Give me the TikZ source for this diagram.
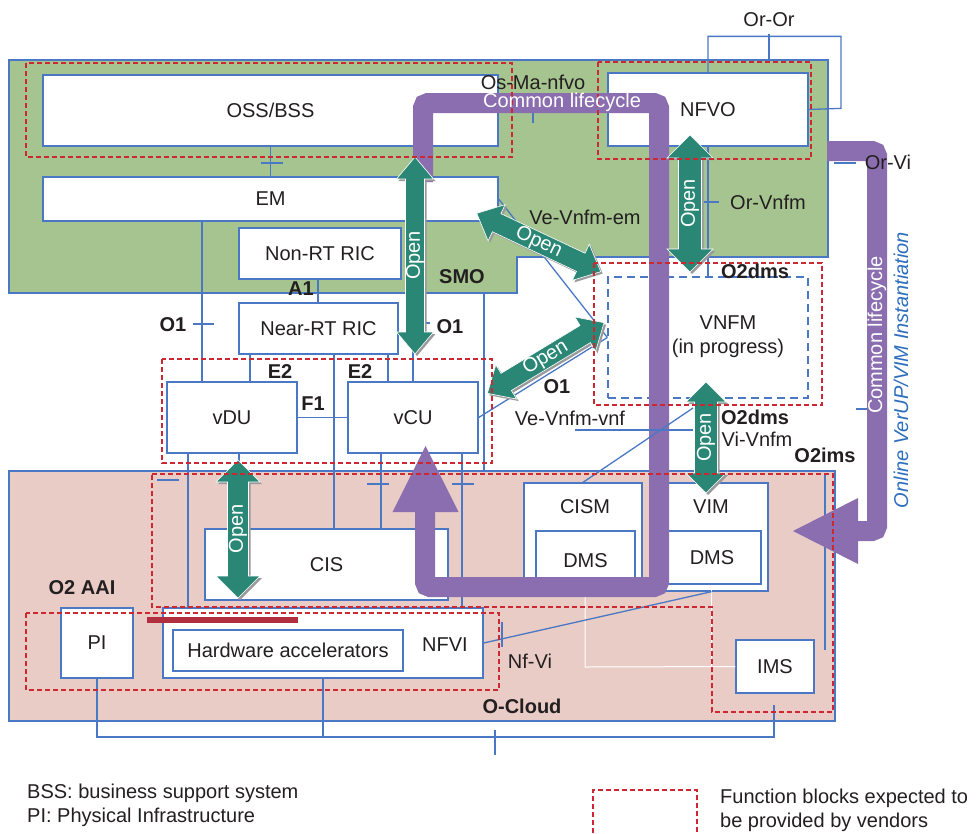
\documentclass[tikz,border=0pt]{standalone}
\usepackage{fontspec}
\setmainfont{Liberation Sans}
\definecolor{smogreen}{HTML}{A6C490}
\definecolor{cloudpink}{HTML}{E9CCC5}
\definecolor{purpc}{HTML}{8B6EAF}
\definecolor{openteal}{HTML}{2A8776}
\definecolor{lblue}{HTML}{4A78C4}
\definecolor{rdash}{HTML}{CC2832}
\definecolor{darkredbar}{HTML}{B02E3E}
\definecolor{txt}{HTML}{231F20}
\definecolor{itblue}{HTML}{2E6EBE}
\definecolor{shadowgray}{HTML}{9A9A9A}
\newcommand\dfs{\fontsize{20}{24}\selectfont}
\newcommand\openarrow[8]{%
  \fill[shadowgray, shift={(#2+2,#3+2)}, rotate=#4] (-#5,0) -- (-#5+#8,-#7) -- (-#5+#8,-#6) -- (#5-#8,-#6) -- (#5-#8,-#7) -- (#5,0) -- (#5-#8,#7) -- (#5-#8,#6) -- (-#5+#8,#6) -- (-#5+#8,#7) -- cycle;
  \filldraw[fill=openteal, draw=white, line width=0.6pt, shift={(#2,#3)}, rotate=#4] (-#5,0) -- (-#5+#8,-#7) -- (-#5+#8,-#6) -- (#5-#8,-#6) -- (#5-#8,-#7) -- (#5,0) -- (#5-#8,#7) -- (#5-#8,#6) -- (-#5+#8,#6) -- (-#5+#8,#7) -- cycle;
  \node[font=\dfs, text=white, inner sep=0pt, rotate=#4] (#1) at (#2,#3) {Open};
}
\begin{document}
\begin{tikzpicture}[x=1pt,y=-1pt,
  bl/.style={draw=lblue, line width=1.3pt},
  region/.style={draw=lblue, line width=1.3pt},
  blk/.style={draw=lblue, line width=1.3pt, fill=white, inner sep=0pt, font=\dfs, text=txt},
  vnfmbox/.style={draw=lblue, line width=1.3pt, dash pattern=on 8pt off 5pt, fill=white},
  reddash/.style={draw=rdash, line width=1.2pt, dash pattern=on 5pt off 3pt},
  lbl/.style={font=\dfs, text=txt, inner sep=0pt},
  blbl/.style={font=\dfs\bfseries, text=txt, inner sep=0pt},
  purpband/.style={draw=purpc, line width=20pt, rounded corners=5pt},
  whiteline/.style={draw=white, line width=1pt},
]
\useasboundingbox (0,0) rectangle (979,833);

% regions
\draw[region, fill=smogreen] (9,60) -- (828,60) -- (828,257) -- (517,257) -- (517,293) -- (9,293) -- cycle;
\draw[region, fill=cloudpink] (9,471) rectangle (835,721);

% helper x positions
\coordinate (x188) at (188,0);
\coordinate (x202) at (202,0);
\coordinate (x239) at (239,0);
\coordinate (x250) at (250,0);
\coordinate (x318) at (318,0);
\coordinate (x334) at (334,0);
\coordinate (x381) at (381,0);
\coordinate (x388) at (388,0);
\coordinate (x413) at (413,0);
\coordinate (x462) at (462,0);
\coordinate (x585) at (585,0);
\coordinate (x711) at (711,0);

% boxes
\node[blk, minimum width=455pt, minimum height=71pt] (oss) at (270.5,110.5) {OSS/BSS};
\node[blk, minimum width=455pt, minimum height=44pt] (em) at (270.5,199) {EM};
\node[blk, minimum width=162pt, minimum height=51pt] (nonrt) at (320,253.5) {Non-RT RIC};
\node[blk, minimum width=200pt, minimum height=73pt] (nfvo) at (708,109.5) {NFVO};
\node[blk, minimum width=159pt, minimum height=51pt] (nearrt) at (318.5,328.5) {Near-RT RIC};
\node[blk, minimum width=130pt, minimum height=71pt] (vdu) at (232,417.5) {vDU};
\node[blk, minimum width=130pt, minimum height=71pt] (vcu) at (413,417.5) {vCU};
\node[blk, minimum width=243pt, minimum height=71pt] (cis) at (326.5,564.5) {CIS};
\node[blk, minimum width=118pt, minimum height=109pt] (cism) at (583,537.5) {};
\node[blk, minimum width=99pt, minimum height=59pt] (cismdms) at (585.5,560.5) {DMS};
\node[blk, minimum width=113pt, minimum height=108pt] (vim) at (711.5,537) {};
\node[blk, minimum width=98pt, minimum height=53pt] (vimdms) at (712,557.5) {DMS};
\node[blk, minimum width=78pt, minimum height=53pt] (ims) at (775,666.5) {IMS};
\node[blk, minimum width=72pt, minimum height=70pt] (pi) at (97,643) {PI};
\node[blk, minimum width=320pt, minimum height=70pt] (nfvi) at (323,643) {};
\node[blk, minimum width=230pt, minimum height=41pt] (hwa) at (288,650.5) {Hardware accelerators};
\node[vnfmbox, minimum width=200pt, minimum height=121pt] (vnfm) at (708,337.5) {};

% connectors
\draw[bl] (oss.south) -- (em.north);
\draw[bl] (261,163) -- (283,163);
\draw[bl] (x202 |- em.south) -- (x202 |- vdu.north);
\draw[bl] (193,324) -- (214,324);
\draw[bl] (x318 |- nonrt.south) -- (x318 |- nearrt.north);
\draw[bl] (x250 |- nearrt.south) -- (x250 |- vdu.north);
\draw[bl] (x388 |- nearrt.south) -- (x388 |- vcu.north);
\draw[bl] (x413 |- em.south) -- (x413 |- vcu.north);
\draw[bl] (406,323) -- (430,323);
\draw[bl] (vdu.east) -- (vcu.west);
\draw[bl] (x334 |- nearrt.south) -- (x334 |- cis.north);
\draw[bl] (484,293) -- (484,471);
\draw[bl] (x188 |- vdu.south) -- (x188 |- nfvi.north);
\draw[bl] (x239 |- vdu.south) -- (x239 |- cis.north);
\draw[bl] (x381 |- vcu.south) -- (x381 |- cis.north);
\draw[bl] (367,484) -- (389,484);
\draw[bl] (x462 |- vcu.south) -- (x462 |- nfvi.north);
\draw[bl] (452,484) -- (474,484);
\draw[bl] (157,480) -- (179,480);
\draw[bl] (nfvo.south) -- (vnfm.north);
\draw[bl] (704,202) -- (719,202);
\draw[bl] (nfvo.north) -- ++(0,-36) -- ++(133,0) -- ++(0,72) -- (nfvo.east);
\draw[bl] (769,34) -- (769,60);
\draw[bl] (533,113) -- (533,123);
\draw[bl] (834,163) -- (856,163);
\draw[bl] (856,409) -- (883,409);
\draw[bl] (em.east) -- (vnfm.west);
\draw[bl] (vcu.east) -- (vnfm.west);
\draw[bl] (825,473) -- (825,650);
\draw[bl] (pi.south) -- (97,737) -- (774,737) -- (774,705);
\draw[bl] (nfvi.south) -- (323,737);
\draw[bl] (495,730) -- (495,755);
\draw[whiteline] (x585 |- cism.south) -- (585,667) -- (ims.west);
\draw[whiteline] (x711 |- vimdms.south) -- (711,667);

% purple lifecycle arrows
\draw[purpband] (423,182) -- (423,103) -- (659,103) -- (659,587) -- (425,587) -- (425,511);
\fill[purpc] (392.5,512) -- (458.5,512) -- (425.5,446) -- cycle;
\draw[purpband] (827,151) -- (877,151) -- (877,531) -- (857,531);
\fill[purpc] (858,498) -- (858,564) -- (793,531) -- cycle;

% connectors over purple
\draw[bl] (575,430) -- (693,430);
\draw[bl] (cism.north) -- (693,408);
\draw[bl] (vim.south) -- (nfvi.east);
\draw[bl] (502,622) -- (502,647);

% open arrows
\openarrow{op1}{415}{255.5}{90}{98.5}{9.5}{18.5}{22}
\openarrow{op2}{538.7}{242.5}{-25.2}{68.5}{10}{20}{22}
\openarrow{op3}{690}{203.5}{90}{68.5}{11.5}{23}{23}
\openarrow{op4}{545.7}{358}{31.2}{68.2}{10}{20}{22}
\openarrow{op5}{706}{437.5}{90}{55.5}{11.5}{20}{20}
\openarrow{op6}{238}{529}{90}{69}{10.5}{22}{22}

% red dashed vendor blocks
\draw[reddash] (26,63) rectangle (512,157);
\draw[reddash] (598,62) rectangle (811,159);
\draw[reddash] (594,263) rectangle (822,405);
\draw[reddash] (162,359) rectangle (492,463);
\draw[reddash] (152,474) -- (833,474) -- (833,712) -- (712,712) -- (712,607) -- (152,607) -- cycle;
\draw[reddash] (26,613) rectangle (499,690);
\draw[reddash] (593,833) -- (593,790) -- (697,790) -- (697,833);

% dark red bar
\draw[darkredbar, line width=6pt] (147,620) -- (298,620);

% texts
\node[lbl] (t-oror) at (769,20) {Or-Or};
\node[lbl] (t-osma) at (533,82) {Os-Ma-nfvo};
\node[lbl, text=white] (t-cl1) at (562,102) {Common lifecycle};
\node[lbl] (t-orvi) at (888,162) {Or-Vi};
\node[lbl] (t-orvnfm) at (768,202) {Or-Vnfm};
\node[lbl] (t-vevnfmem) at (585,217) {Ve-Vnfm-em};
\node[blbl] (t-o2dms1) at (755,271) {O2dms};
\node[blbl] (t-smo) at (462,277) {SMO};
\node[blbl] (t-a1) at (301,289) {A1};
\node[blbl] (t-o1a) at (173,325) {O1};
\node[blbl] (t-o1b) at (450,327) {O1};
\node[blbl] (t-o1c) at (557,387) {O1};
\node[blbl] (t-e2a) at (280,372) {E2};
\node[blbl] (t-e2b) at (360,372) {E2};
\node[blbl] (t-f1) at (313,404) {F1};
\node[lbl] (t-vnfm) at (728,323) {VNFM};
\node[lbl] (t-inprog) at (728,348) {(in progress)};
\node[lbl] (t-vevnfmvnf) at (570,418) {Ve-Vnfm-vnf};
\node[blbl] (t-o2dms2) at (755,417) {O2dms};
\node[lbl] (t-vivnfm) at (757,439) {Vi-Vnfm};
\node[blbl] (t-o2ims) at (825,455) {O2ims};
\node[lbl] (t-cism) at (585,507) {CISM};
\node[lbl] (t-vim) at (711,507) {VIM};
\node[lbl] (t-nfvi) at (445,645) {NFVI};
\node[blbl] (t-o2aai) at (82,588) {O2 AAI};
\node[lbl] (t-nfvi2) at (530,661) {Nf-Vi};
\node[blbl] (t-ocloud) at (522,706) {O-Cloud};
\node[lbl, text=white, rotate=90] (t-cl2) at (877,335) {Common lifecycle};
\node[lbl, text=itblue, font=\dfs\itshape, rotate=90] (t-online) at (901,370) {Online VerUP/VIM Instantiation};

% legend
\node[lbl, anchor=west] (leg1) at (27,793) {BSS: business support system};
\node[lbl, anchor=west] (leg2) at (27,817) {PI: Physical Infrastructure};
\node[lbl, anchor=west] (leg3) at (720,798) {Function blocks expected to};
\node[lbl, anchor=west] (leg4) at (720,822) {be provided by vendors};
\end{tikzpicture}
\end{document}
